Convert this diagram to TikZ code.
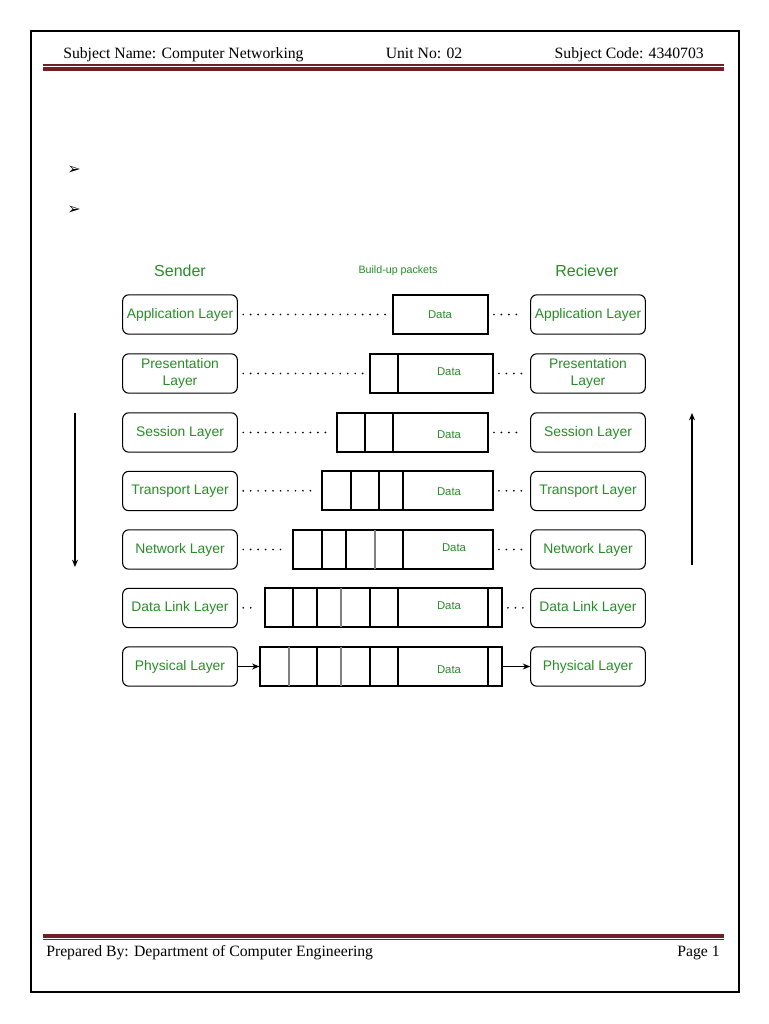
\documentclass[tikz,border=0pt]{standalone}
\usepackage{fontspec}
\setmainfont{Liberation Serif}
\newfontfamily\diafont{Liberation Sans}
\newfontfamily\symfont{DejaVu Sans}
\usetikzlibrary{fit,arrows.meta}
\definecolor{layergreen}{RGB}{40,140,40}
\definecolor{rulered}{RGB}{110,32,38}
\begin{document}
\begin{tikzpicture}[x=0.75pt,y=-0.75pt,>={Stealth[length=5.5pt,width=4.5pt]},
  layer/.style={draw, rounded corners=4.5pt, minimum width=86pt, minimum height=29.5pt, inner sep=1pt, text=layergreen, align=center, line width=0.8pt, font=\diafont\fontsize{10.4}{13}\selectfont},
  pkt/.style={draw, inner sep=0pt, line width=0.9pt},
  data/.style={text=layergreen, font=\diafont\fontsize{8.5}{10}\selectfont},
  title/.style={text=layergreen, font=\diafont\fontsize{12}{14}\selectfont},
  dots/.style={line width=1.4pt, line cap=round, dash pattern=on 0pt off 5.6pt, shorten <=4pt, shorten >=5pt},
  page/.style={font=\fontsize{11.8}{14}\selectfont}]
\fill[white] (0,0) rectangle (768,1024);
\useasboundingbox (0,0) rectangle (768,1024);
\draw[line width=1pt] (31,31) rectangle (739,992);

% header and footer
\node[page, anchor=base west, inner sep=0pt] (hname) at (63,59) {Subject Name: Computer Networking};
\node[page, anchor=base, inner sep=0pt] (hunit) at (424,59) {Unit No: 02};
\node[page, anchor=base east, inner sep=0pt] (hcode) at (704,59) {Subject Code: 4340703};
\draw[rulered, line width=0.8pt] (43,65) -- (724,65);
\draw[rulered, line width=3.2pt] (43,69) -- (724,69);
\draw[rulered, line width=3.2pt] (43,936) -- (724,936);
\draw[rulered, line width=0.8pt] (43,939.5) -- (724,939.5);
\node[page, anchor=base west, inner sep=0pt] (fprep) at (46,956) {Prepared By: Department of Computer Engineering};
\node[page, anchor=base east, inner sep=0pt] (fpage) at (720,956) {Page 1};

\node[font=\symfont\fontsize{12}{12}\selectfont] (b1) at (74,170) {➢};
\node[font=\symfont\fontsize{12}{12}\selectfont] (b2) at (74,210) {➢};

% titles
\node[title] (sender) at (180,271) {Sender};
\node[data, font=\diafont\fontsize{8}{10}\selectfont] (build) at (398,271) {Build-up packets};
\node[title] (receiver) at (587,271) {Reciever};

% sender layers
\node[layer] (s1) at (180,314.5) {Application Layer};
\node[layer] (s2) at (180,373.5) {Presentation\\Layer};
\node[layer] (s3) at (180,432.5) {Session Layer};
\node[layer] (s4) at (180,491) {Transport Layer};
\node[layer] (s5) at (180,549.5) {Network Layer};
\node[layer] (s6) at (180,608) {Data Link Layer};
\node[layer] (s7) at (180,666.5) {Physical Layer};

% receiver layers
\node[layer] (r1) at (588,314.5) {Application Layer};
\node[layer] (r2) at (588,373.5) {Presentation\\Layer};
\node[layer] (r3) at (588,432.5) {Session Layer};
\node[layer] (r4) at (588,491) {Transport Layer};
\node[layer] (r5) at (588,549.5) {Network Layer};
\node[layer] (r6) at (588,608) {Data Link Layer};
\node[layer] (r7) at (588,666.5) {Physical Layer};

% packets
\node[pkt, fit={(393,295) (488,334)}] (p1) {};
\node[data] (d1) at (440,315) {Data};

\node[pkt, fit={(370,354) (493,393)}] (p2) {};
\draw[line width=0.9pt] (398,354) -- (398,393);
\node[data] (d2) at (449,372) {Data};

\node[pkt, fit={(337,413) (488,452)}] (p3) {};
\draw[line width=0.9pt] (365,413) -- (365,452) (393,413) -- (393,452);
\node[data] (d3) at (449,435) {Data};

\node[pkt, fit={(322,471) (493,510)}] (p4) {};
\draw[line width=0.9pt] (351,471) -- (351,510) (379,471) -- (379,510) (403,471) -- (403,510);
\node[data] (d4) at (449,492) {Data};

\node[pkt, fit={(293,530) (493,569)}] (p5) {};
\draw[line width=0.9pt] (322,530) -- (322,569) (346,530) -- (346,569) (403,530) -- (403,569);
\draw[gray, line width=0.9pt] (375,530) -- (375,569);
\node[data] (d5) at (454,548) {Data};

\node[pkt, fit={(265,588) (502,627)}] (p6) {};
\draw[line width=0.9pt] (293,588) -- (293,627) (317,588) -- (317,627) (370,588) -- (370,627) (398,588) -- (398,627) (488,588) -- (488,627);
\draw[gray, line width=0.9pt] (341,588) -- (341,627);
\node[data] (d6) at (449,606) {Data};

\node[pkt, fit={(260,647) (502,686)}] (p7) {};
\draw[line width=0.9pt] (317,647) -- (317,686) (370,647) -- (370,686) (398,647) -- (398,686) (488,647) -- (488,686);
\draw[gray, line width=0.9pt] (289,647) -- (289,686) (341,647) -- (341,686);
\node[data] (d7) at (449,670) {Data};

% dotted links
\foreach \i in {1,...,6} {
  \draw[dots] (s\i) -- (p\i);
  \draw[dots] (p\i) -- (r\i);
}
\draw[->, line width=0.8pt] (s7) -- (p7);
\draw[->, line width=0.8pt] (p7) -- (r7);

% direction arrows
\coordinate (downtop) at (75,413);
\coordinate (downbot) at (75,567);
\coordinate (upbot) at (692,565);
\coordinate (uptop) at (692,413);
\draw[->, line width=0.8pt] (downtop) -- (downbot);
\draw[->, line width=0.8pt] (upbot) -- (uptop);
\end{tikzpicture}
\end{document}
